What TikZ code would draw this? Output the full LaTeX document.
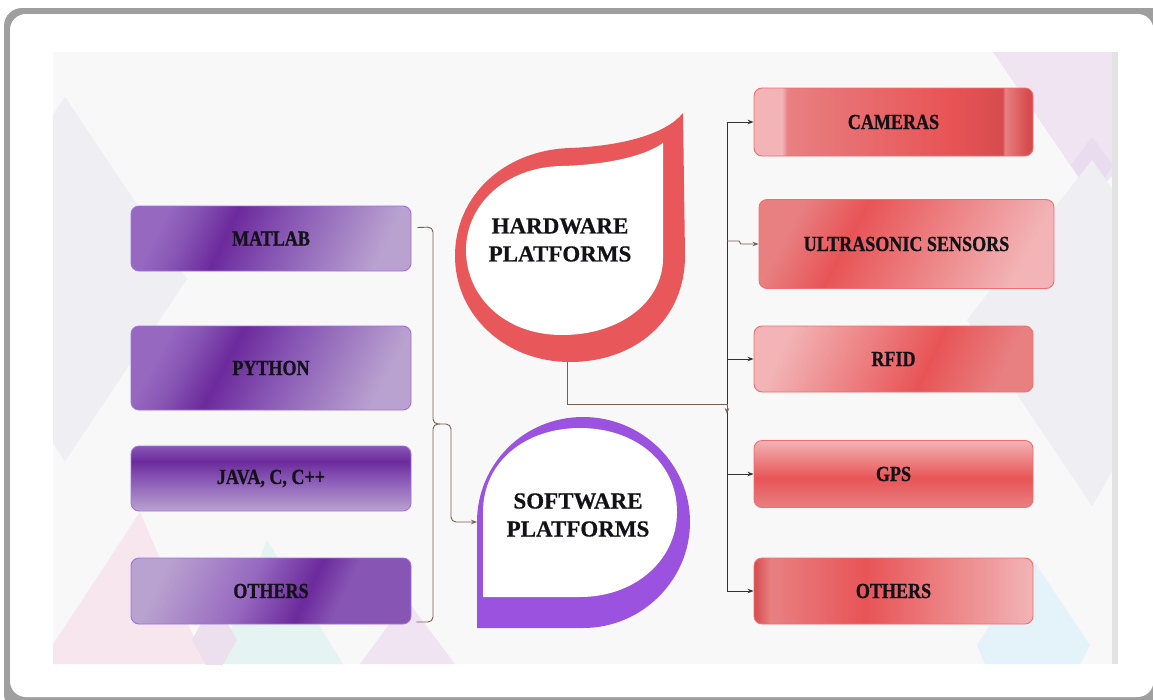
\documentclass[tikz,border=0pt]{standalone}
\usepackage{fontspec}
\setmainfont{Liberation Serif}
\newfontfamily\boxfont[FakeStretch=0.84,FakeBold=0.8]{Liberation Serif Bold}
\newfontfamily\bigfont[FakeBold=0.5]{Liberation Serif Bold}
\usetikzlibrary{arrows.meta}
\definecolor{pvl}{RGB}{185,162,207}
\definecolor{pl}{RGB}{150,104,192}
\definecolor{pd}{RGB}{108,42,156}
\definecolor{pm}{RGB}{135,86,180}
\definecolor{rl}{RGB}{242,180,182}
\definecolor{rr}{RGB}{232,84,86}
\definecolor{rd}{RGB}{214,76,78}
\definecolor{rm}{RGB}{232,128,130}
\definecolor{pborder}{RGB}{160,112,224}
\definecolor{rborder}{RGB}{240,110,112}
\definecolor{hwred}{RGB}{232,88,90}
\definecolor{swpurple}{RGB}{155,82,222}
\definecolor{brk}{RGB}{122,94,80}
\definecolor{trunkc}{RGB}{50,50,50}
\definecolor{panel}{RGB}{248,248,248}
\definecolor{txt}{RGB}{18,18,24}
\definecolor{bgA}{RGB}{238,238,243}
\definecolor{bgPink}{RGB}{247,230,238}
\definecolor{bgCyan}{RGB}{230,243,243}
\definecolor{bgLav}{RGB}{240,228,243}
\definecolor{bgBlue}{RGB}{228,242,250}
\definecolor{bgLavD}{RGB}{232,220,238}
\pgfdeclarehorizontalshading{pdiag}{100bp}{color(0bp)=(pl); color(25bp)=(pl); color(31bp)=(pm); color(40bp)=(pd); color(52bp)=(pm); color(75bp)=(pvl); color(100bp)=(pvl)}
\pgfdeclareverticalshading{pvert}{100bp}{color(0bp)=(pvl); color(25bp)=(pvl); color(50bp)=(pm); color(63bp)=(pd); color(75bp)=(pm); color(100bp)=(pm)}
\pgfdeclarehorizontalshading{poth}{100bp}{color(0bp)=(pvl); color(25bp)=(pvl); color(45bp)=(pl); color(58bp)=(pd); color(66bp)=(pm); color(75bp)=(pm); color(100bp)=(pm)}
\pgfdeclarehorizontalshading{rcam}{100bp}{color(0bp)=(rl); color(25bp)=(rl); color(30bp)=(rl); color(31bp)=(rm); color(60bp)=(rr); color(69.5bp)=(rd); color(70bp)=(rm); color(74bp)=(rd); color(75bp)=(rd); color(100bp)=(rd)}
\pgfdeclarehorizontalshading{rus}{100bp}{color(0bp)=(rm); color(25bp)=(rm); color(38bp)=(rr); color(75bp)=(rl); color(100bp)=(rl)}
\pgfdeclarehorizontalshading{rrfid}{100bp}{color(0bp)=(rl); color(25bp)=(rl); color(58bp)=(rr); color(75bp)=(rm); color(100bp)=(rm)}
\pgfdeclareverticalshading{rgps}{100bp}{color(0bp)=(rm); color(25bp)=(rm); color(47bp)=(rr); color(75bp)=(rl); color(100bp)=(rl)}
\pgfdeclarehorizontalshading{roth}{100bp}{color(0bp)=(rd); color(25bp)=(rd); color(28bp)=(rm); color(45bp)=(rr); color(75bp)=(rl); color(100bp)=(rl)}
\begin{document}
\begin{tikzpicture}[x=1pt,y=-1pt,
  pbox/.style={draw=pborder, line width=0.9pt, rounded corners=8pt, minimum width=280pt,
    text=txt, inner sep=0pt, font={\fontsize{21.5}{24}\boxfont}},
  rbox/.style={draw=rborder, line width=0.9pt, rounded corners=8pt, minimum width=279pt,
    text=txt, inner sep=0pt, font={\fontsize{21.5}{24}\boxfont}},
  bigtext/.style={text=txt, align=center, inner sep=0pt, font={\fontsize{23}{28}\bigfont}},
  brkline/.style={draw=brk, line width=0.9pt},
  trline/.style={draw=trunkc, line width=0.9pt},
  tip/.style={-{Stealth[length=6pt,width=4.5pt]}}
]
\useasboundingbox (0,0) rectangle (1153,699);
% frame
\fill[white] (0,0) rectangle (1153,699);
\fill[gray!75, rounded corners=18pt] (4,8) rectangle (1170,712);
\fill[white, rounded corners=16pt] (10,14) rectangle (1153.5,697);
% panel
\fill[panel] (53,52) rectangle (1118,664);
\begin{scope}
\clip (53,52) rectangle (1112,664);
\fill[bgA] (65,97) -- (187,279) -- (65,461) -- (-57,279) -- cycle;
\fill[bgPink] (140,512) -- (205,664) -- (40,664) -- cycle;
\fill[bgCyan] (267,540) -- (343,664) -- (217,664) -- cycle;
\fill[bgLavD!70!bgPink] (214,600) -- (237,640) -- (214,680) -- (192,640) -- cycle;
\fill[bgLav] (407,600) -- (455,664) -- (360,664) -- cycle;
\fill[bgLav] (993,52) -- (1113,52) -- (1113,175) -- (1092,197) -- cycle;
\fill[bgLavD] (1092,137) -- (1113,165) -- (1092,197) -- (1071,165) -- cycle;
\fill[bgA] (967,320) -- (1092,160) -- (1113,190) -- (1113,470) -- (1092,506) -- cycle;
\fill[bgBlue] (1033,560) -- (1090,645) -- (1080,664) -- (985,664) -- (977,645) -- cycle;
\end{scope}
\fill[gray!22] (1112,52) rectangle (1118,664);
% hardware drop
\fill[hwred] (683,113) -- (685,256) .. controls (685,320) and (635,362) .. (570,362)
  .. controls (505,362) and (455,315) .. (455,256)
  .. controls (455,195) and (505,150) .. (570,148)
  .. controls (620,146) and (665,135) .. (683,113) -- cycle;
\fill[white] (663,143) -- (663,258) .. controls (663,302) and (620,335) .. (562,335)
  .. controls (505,335) and (466,297) .. (466,250)
  .. controls (466,205) and (505,167) .. (562,166)
  .. controls (600,165) and (642,158) .. (663,143) -- cycle;
% software drop
\fill[swpurple] (477,522) -- (477,628) -- (583,628) .. controls (642,628) and (690,580) .. (690,522)
  .. controls (690,464) and (642,417) .. (583,417)
  .. controls (524,417) and (477,464) .. (477,522) -- cycle;
\fill[white] (483,512) -- (483,597) -- (580,597) .. controls (635,597) and (677,560) .. (677,512)
  .. controls (677,462) and (635,428) .. (580,428)
  .. controls (525,428) and (483,462) .. (483,512) -- cycle;
\node[bigtext] (hwt) at (560,240) {HARDWARE\\PLATFORMS};
\node[bigtext] (swt) at (578,515) {SOFTWARE\\PLATFORMS};
\coordinate (hwbot) at (567,362);
\coordinate (swin) at (477,522);
% left boxes
\node[pbox, minimum height=65pt, shading=pdiag, shading angle=-25] (matlab) at (271,238.5) {MATLAB};
\node[pbox, minimum height=84pt, shading=pdiag, shading angle=-28] (python) at (271,368) {PYTHON};
\node[pbox, minimum height=65pt, shading=pvert] (java) at (271,478.5) {JAVA, C, C++};
\node[pbox, minimum height=66pt, shading=poth, shading angle=-25] (lothers) at (271,591) {OTHERS};
% right boxes
\node[rbox, minimum height=68pt, shading=rcam] (cam) at (893.5,122) {CAMERAS};
\node[rbox, minimum width=295pt, minimum height=89pt, shading=rus, shading angle=-28] (us) at (906.5,244) {ULTRASONIC SENSORS};
\node[rbox, minimum height=66pt, shading=rrfid, shading angle=-25] (rfid) at (893.5,359) {RFID};
\node[rbox, minimum height=67pt, shading=rgps] (gps) at (893.5,474) {GPS};
\node[rbox, minimum height=66pt, shading=roth] (rothers) at (893.5,591) {OTHERS};
% left bracket connectors
\draw[brkline, tip, rounded corners=5pt] ([xshift=6pt,yshift=11pt]matlab.east) -- (433,227) -- (433,424) -- (451,424) -- (451,522) -- (swin);
\draw[brkline, rounded corners=5pt] ([xshift=5pt,yshift=-31pt]lothers.east) -- (433,622) -- (433,424) -- (440,424);
% right trunk
\coordinate (trunk) at (727,122);
\draw[trline] (cam.west -| trunk) -- (rothers.west -| trunk);
\draw[trline, tip] (cam.west -| trunk) -- (cam.west);
\draw[brkline, tip] (727,241) -- (739,241) -- (741,244) -- (us.west);
\draw[trline, tip] (rfid.west -| trunk) -- (rfid.west);
\draw[trline, tip] (gps.west -| trunk) -- (gps.west);
\draw[trline, tip] (rothers.west -| trunk) -- (rothers.west);
\draw[brkline, tip] (hwbot) -- (567,404) -- (727,404) -- (727,414);
\end{tikzpicture}
\end{document}
